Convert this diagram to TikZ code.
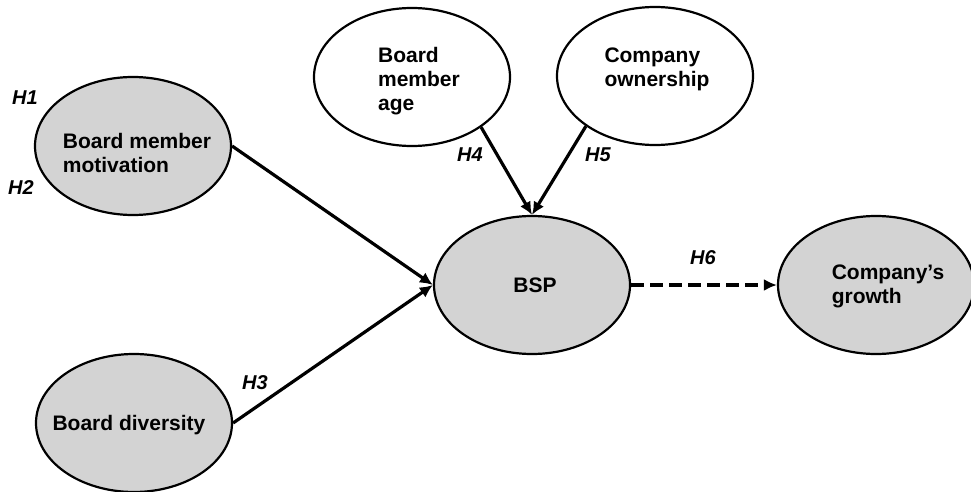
\documentclass[tikz,border=0pt]{standalone}
\usepackage{fontspec}
\setmainfont{Liberation Sans}
\usetikzlibrary{shapes.geometric,arrows.meta}
\definecolor{constructgrey}{RGB}{211,211,211}
\begin{document}
\begin{tikzpicture}[x=1pt,y=-1pt,
  construct/.style={ellipse, draw, line width=2.2pt, inner sep=0pt,
    minimum width=196pt, minimum height=138pt},
  latent/.style={construct, fill=constructgrey},
  observed/.style={construct, fill=white},
  caption/.style={font=\fontsize{21}{24}\selectfont\bfseries, align=left, inner sep=0pt},
  hyp/.style={font=\fontsize{20}{22}\selectfont\bfseries\itshape, inner sep=0pt},
  link/.style={line width=3.2pt, -{Latex[length=13pt,width=12pt]}},
  dashlink/.style={link, dash pattern=on 13pt off 6pt},
]
\useasboundingbox (0,0) rectangle (971,492);

% constructs
\node[latent]   (mot) at (133,146) {};
\node[latent]   (div) at (134,423) {};
\node[observed] (age) at (412,77)  {};
\node[observed] (own) at (655,76)  {};
\node[latent]   (bsp) at (532,285) {};
\node[latent]   (grw) at (876,285) {};

% construct names
\node[caption] (motT) at (137,153) {Board member\\motivation};
\node[caption] (divT) at (129,425) {Board diversity};
\node[caption] (ageT) at (419,81)  {Board\\member\\age};
\node[caption] (ownT) at (657,69)  {Company\\ownership};
\node[caption] (bspT) at (535,285) {BSP};
\node[caption] (grwT) at (888,286) {Company’s\\growth};

% hypothesised paths
\draw[link] (mot.east) -- (bsp.west);
\draw[link] (div.east) -- (bsp.west);
\draw[link] (age.-36)  -- (bsp.north);
\draw[link] (own.-144) -- (bsp.north);
\draw[dashlink] (bsp.east) -- (grw.west);

% hypothesis labels
\node[hyp] (h1) at (25,98)   {H1};
\node[hyp] (h2) at (21,188)  {H2};
\node[hyp] (h3) at (255,383) {H3};
\node[hyp] (h4) at (470,155) {H4};
\node[hyp] (h5) at (598,155) {H5};
\node[hyp] (h6) at (703,258) {H6};
\end{tikzpicture}
\end{document}
